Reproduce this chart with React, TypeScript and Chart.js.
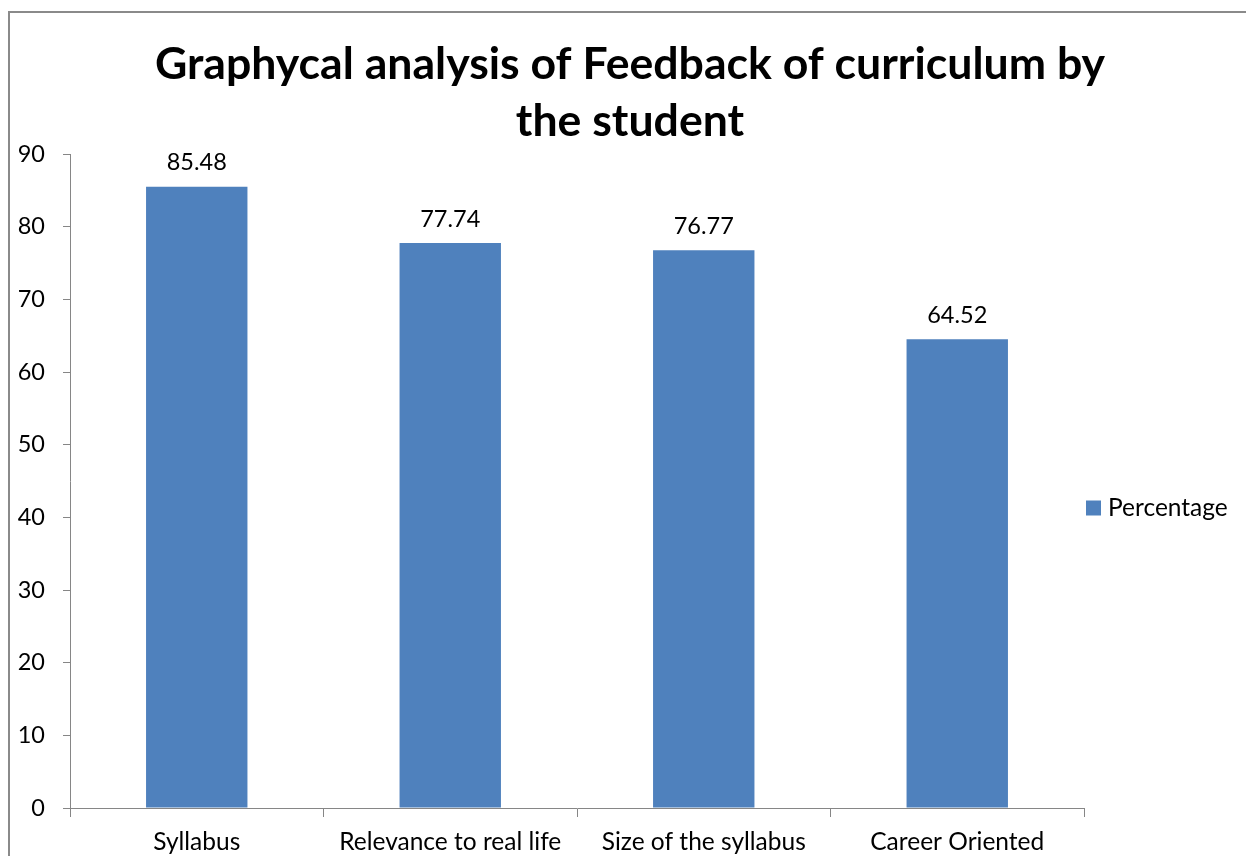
import React, { useEffect, useRef } from "react";
import { Chart, registerables } from "chart.js";

Chart.register(...registerables);

const categories = ["Syllabus", "Relevance to real life", "Size of the syllabus", "Career Oriented"];
const percentage = [85.48, 77.74, 76.77, 64.52];
const seriesName = "Percentage";
const titleLines = ["Graphycal analysis of Feedback of curriculum by", "the student"];
const yMin = 0;
const yMax = 90;
const yStep = 10;

const FONT = "Lato";
const FS = 24.5;
const NUM_FS = 23.5;
const BAR = "#4F81BD";
const AXIS = "#868686";
const PAD_L = 14;

const frame = {
  id: "frame",
  beforeDraw(chart: any) {
    const ctx = chart.ctx;
    ctx.save();
    ctx.fillStyle = "#ffffff";
    ctx.fillRect(0, 0, chart.width, chart.height);
    ctx.strokeStyle = "#8a8a8a";
    ctx.lineWidth = 2;
    ctx.strokeRect(9, 12, chart.width + 50, chart.height + 50);
    ctx.restore();
  },
};

const valueLabels = {
  id: "valueLabels",
  afterDatasetsDraw(chart: any) {
    const ctx = chart.ctx;
    ctx.save();
    ctx.font = `${NUM_FS}px ${FONT}`;
    ctx.fillStyle = "#000000";
    ctx.textAlign = "center";
    ctx.textBaseline = "middle";
    chart.data.datasets.forEach((ds: any, di: number) => {
      const meta = chart.getDatasetMeta(di);
      meta.data.forEach((el: any, i: number) => {
        const { x, y } = el.getProps(["x", "y"], true);
        ctx.fillText(Number(ds.data[i]).toFixed(2), x, y - 24);
      });
    });
    ctx.restore();
  },
};

const sideLegend = {
  id: "sideLegend",
  afterDraw(chart: any) {
    const ctx = chart.ctx;
    const area = chart.chartArea;
    const ds = chart.data.datasets[0];
    const cy = (chart.height + 160) / 2;
    const bx = area.right + 2;
    ctx.save();
    ctx.fillStyle = ds.backgroundColor;
    ctx.fillRect(bx, cy - 7.5, 15, 15);
    ctx.font = `${FS}px ${FONT}`;
    ctx.fillStyle = "#000000";
    ctx.textAlign = "left";
    ctx.textBaseline = "middle";
    ctx.fillText(ds.label, bx + 22, cy);
    ctx.restore();
  },
};

export default function App() {
  const ref = useRef<HTMLCanvasElement | null>(null);

  useEffect(() => {
    document.body.style.margin = "0";
    const canvas = ref.current;
    if (!canvas) return;
    const chart = new Chart(canvas, {
      type: "bar",
      data: {
        labels: categories,
        datasets: [
          {
            label: seriesName,
            data: percentage,
            backgroundColor: BAR,
            borderWidth: 0,
            categoryPercentage: 1,
            barPercentage: 0.4,
          },
        ],
      },
      options: {
        responsive: false,
        animation: false,
        devicePixelRatio: 1,
        layout: { padding: { left: PAD_L, right: 0, top: 0, bottom: 0 } },
        plugins: {
          legend: { display: false },
          tooltip: { enabled: false },
          title: {
            display: true,
            text: titleLines,
            color: "#000000",
            font: { family: FONT, size: 44.6, weight: "bold", lineHeight: 57 / 44.6 },
            padding: { top: 36, bottom: 4 },
          },
        },
        scales: {
          x: {
            grid: {
              display: true,
              offset: true,
              drawOnChartArea: false,
              drawTicks: true,
              tickLength: 9,
              color: AXIS,
            },
            border: { display: true, color: AXIS, width: 1 },
            ticks: {
              color: "#000000",
              font: { family: FONT, size: FS },
              padding: 10,
              maxRotation: 0,
              autoSkip: false,
            },
            afterFit: (s: any) => {
              s.height = 48;
            },
          },
          y: {
            min: yMin,
            max: yMax,
            grid: {
              display: true,
              drawOnChartArea: false,
              drawTicks: true,
              tickLength: 7,
              color: AXIS,
            },
            border: { display: true, color: AXIS, width: 1 },
            ticks: {
              stepSize: yStep,
              color: "#000000",
              font: { family: FONT, size: NUM_FS },
              padding: 18,
            },
            afterFit: (s: any) => {
              s.width = 70 - PAD_L;
            },
          },
          legendSpace: {
            type: "linear",
            position: "right",
            display: true,
            grid: { display: false },
            border: { display: false },
            ticks: { display: false },
            afterFit: (s: any) => {
              s.width = 162;
            },
          },
        },
      } as any,
      plugins: [frame, valueLabels, sideLegend],
    });
    return () => chart.destroy();
  }, []);

  return <canvas ref={ref} width={1246} height={856} style={{ display: "block", width: 1246, height: 856 }} />;
}
